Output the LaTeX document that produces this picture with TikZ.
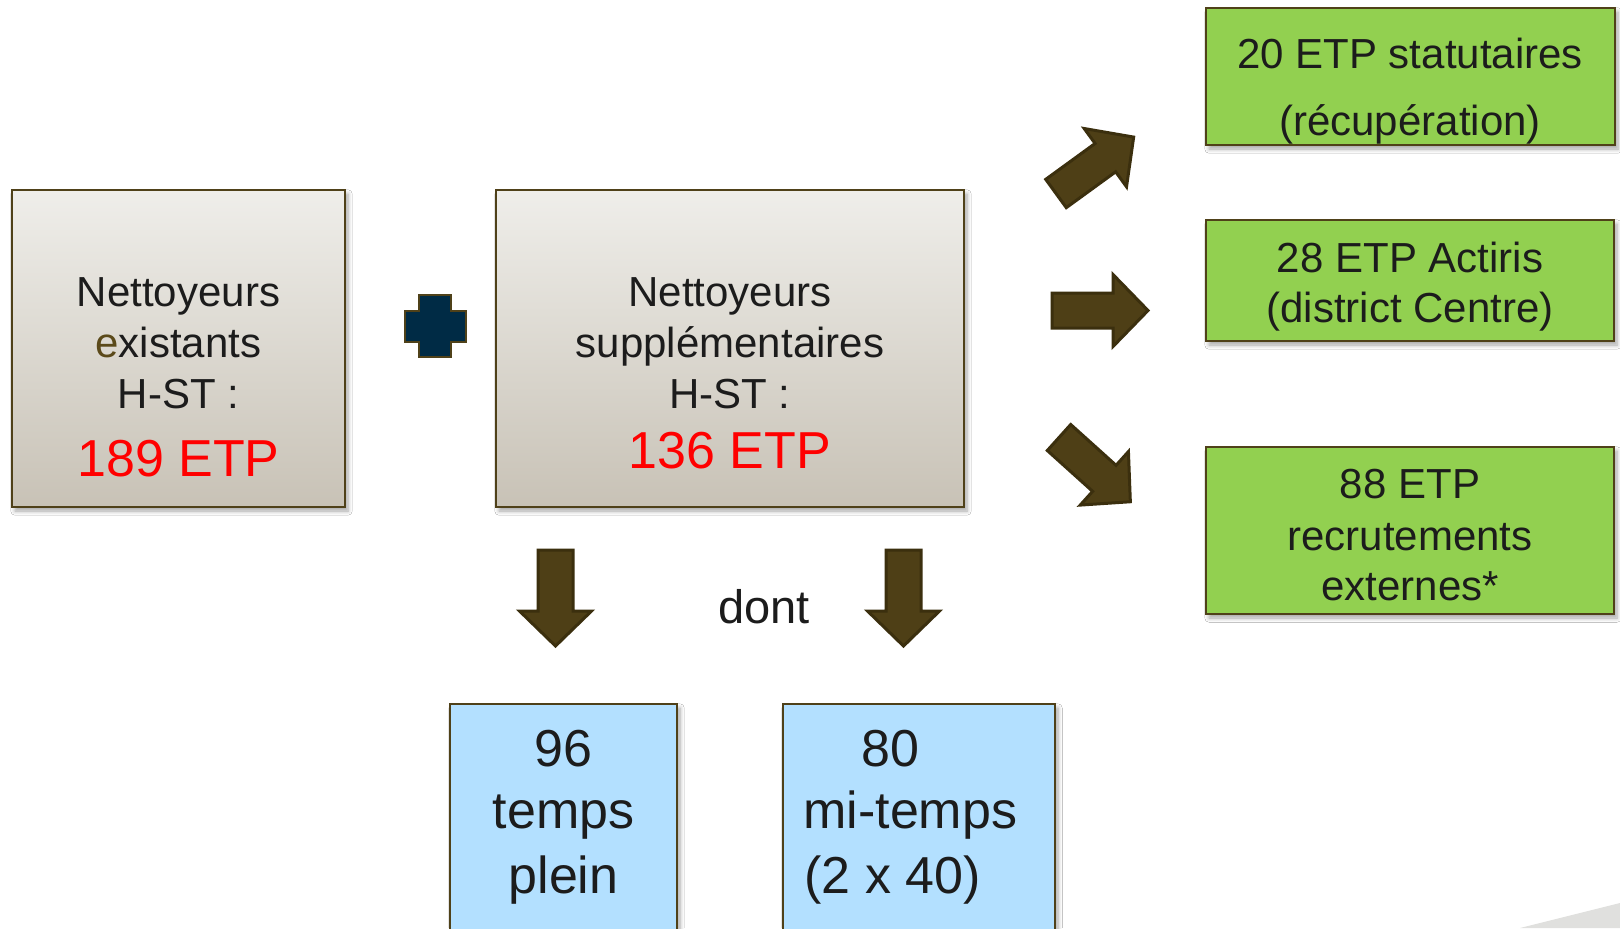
\documentclass[tikz,border=0pt]{standalone}
\usepackage{fontspec}
\setmainfont{Liberation Sans}
\usetikzlibrary{shadows.blur}
\definecolor{boxborder}{HTML}{4F4119}
\definecolor{graytop}{HTML}{EFEEEA}
\definecolor{graybot}{HTML}{C8C2B6}
\definecolor{greenfill}{HTML}{92D050}
\definecolor{bluefill}{HTML}{B3E0FF}
\definecolor{arrowfill}{HTML}{4E3F16}
\definecolor{arrowdraw}{HTML}{3B2F0E}
\definecolor{plusfill}{HTML}{002B45}
\definecolor{txt}{HTML}{1C1C1C}
\definecolor{olivetxt}{HTML}{5B4A1A}
\definecolor{cornergray}{HTML}{E0E0DE}
\tikzset{
  boxbase/.style={draw=boxborder, line width=1pt, inner sep=0pt,
    blur shadow={shadow xshift=1.5pt, shadow yshift=-2pt, shadow blur steps=6, shadow opacity=35}},
  graybox/.style={boxbase, top color=graytop, bottom color=graybot},
  greenbox/.style={boxbase, fill=greenfill},
  bluebox/.style={boxbase, fill=bluefill},
  txtm/.style={anchor=base, inner sep=0pt, text=txt, font=\fontsize{21}{25}\selectfont},
  txtred/.style={anchor=base, inner sep=0pt, text=red, font=\fontsize{26}{30}\selectfont},
  txtblue/.style={anchor=base, inner sep=0pt, text=txt, font=\fontsize{26}{30}\selectfont},
  txtdont/.style={anchor=base, inner sep=0pt, text=txt, font=\fontsize{23.5}{28}\selectfont},
  blockarrow/.style={fill=arrowfill, draw=arrowdraw, line width=1.5pt, line join=miter},
}
\newcommand{\blockarr}[3]{%
  \draw[blockarrow, shift={(#1,#2)}, rotate=#3]
    (0,-17.5) -- (61,-17.5) -- (61,-36) -- (96,0) -- (61,36) -- (61,17.5) -- (0,17.5) -- cycle;}
\begin{document}
\begin{tikzpicture}[x=0.5pt,y=-0.5pt]
\useasboundingbox (0,0) rectangle (1620,928);
\clip (0,0) rectangle (1620,928);
\fill[white] (0,0) rectangle (1620,928);
% corner decoration
\fill[cornergray] (1520,928) -- (1620,903) -- (1620,928) -- cycle;

% boxes
\node[graybox, minimum width=166.5pt, minimum height=158.5pt] (b1) at (178.5,348.5) {};
\node[graybox, minimum width=234pt, minimum height=158.5pt] (b2) at (730,348.5) {};
\node[greenbox, minimum width=204.5pt, minimum height=68.5pt] (g1) at (1410.5,76.5) {};
\node[greenbox, minimum width=204pt, minimum height=60.5pt] (g2) at (1410,280.5) {};
\node[greenbox, minimum width=204pt, minimum height=83.5pt] (g3) at (1410,530.5) {};
\node[bluebox, minimum width=113.5pt, minimum height=128pt] (u1) at (563.5,832) {};
\node[bluebox, minimum width=136pt, minimum height=128pt] (u2) at (919,832) {};

% texts box 1
\node[txtm] (t11) at (178.5,306) {Nettoyeurs};
\node[txtm] (t12) at (178.5,357) {\textcolor{olivetxt}{e}xistants};
\node[txtm] (t13) at (178.5,408) {H-ST :};
\node[txtred] (t14) at (178.5,476) {189 ETP};
% texts box 2
\node[txtm] (t21) at (730,306) {Nettoyeurs};
\node[txtm] (t22) at (730,357) {supplémentaires};
\node[txtm] (t23) at (730,408) {H-ST :};
\node[txtred] (t24) at (730,468) {136 ETP};
% green texts
\node[txtm] (ga1) at (1410,68) {20 ETP statutaires};
\node[txtm] (ga2) at (1410,135) {(récupération)};
\node[txtm] (gb1) at (1410,272) {28 ETP Actiris};
\node[txtm] (gb2) at (1410,322) {(district Centre)};
\node[txtm] (gc1) at (1410,498) {88 ETP};
\node[txtm] (gc2) at (1410,550) {recrutements};
\node[txtm] (gc3) at (1410,600) {externes*};
% blue texts
\node[txtblue] (ua1) at (563.5,766) {96};
\node[txtblue] (ua2) at (563.5,828) {temps};
\node[txtblue] (ua3) at (563.5,893) {plein};
\node[txtblue] (ub1) at (890,766) {80};
\node[txtblue, anchor=base west] (ub2) at (803,828) {mi-temps};
\node[txtblue, anchor=base west] (ub3) at (804,893) {(2 x 40)};
% dont
\node[txtdont] (dont) at (764,623) {dont};

% plus sign
\draw[fill=plusfill, draw=boxborder, line width=1pt]
  (419,295) -- (451,295) -- (451,311) -- (466,311) -- (466,342) -- (451,342)
  -- (451,357) -- (419,357) -- (419,342) -- (405,342) -- (405,311) -- (419,311) -- cycle;

% block arrows
\blockarr{1056}{193.5}{36}
\blockarr{1052}{310.5}{0}
\blockarr{1059}{437.5}{-42}
\blockarr{555.5}{550}{-90}
\blockarr{903.5}{550}{-90}
\end{tikzpicture}
\end{document}
